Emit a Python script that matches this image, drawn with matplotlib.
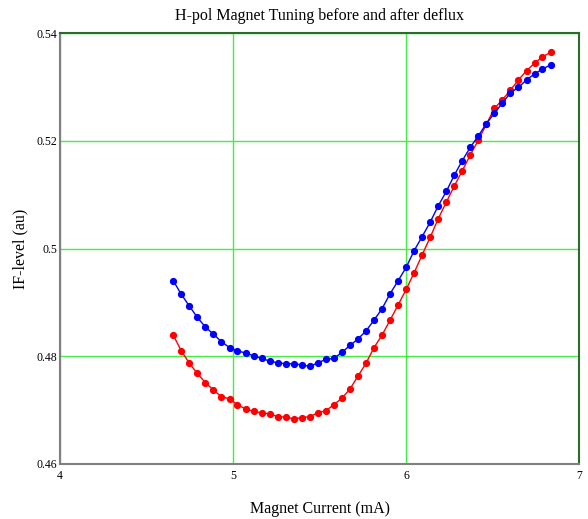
import matplotlib
matplotlib.use("Agg")
import matplotlib.pyplot as plt

# magnet current (mA), same grid for both sweeps
current = [4.655, 4.701, 4.748, 4.794, 4.841, 4.887, 4.933, 4.980, 5.026, 5.073,
           5.119, 5.165, 5.212, 5.258, 5.305, 5.351, 5.397, 5.444, 5.490, 5.537,
           5.583, 5.629, 5.676, 5.722, 5.769, 5.815, 5.861, 5.908, 5.954, 6.001,
           6.047, 6.093, 6.140, 6.186, 6.233, 6.279, 6.325, 6.372, 6.418, 6.465,
           6.511, 6.557, 6.604, 6.650, 6.697, 6.743, 6.789, 6.836]

# IF level (au)
blue_level = [0.4940, 0.4915, 0.4893, 0.4872, 0.4854, 0.4841, 0.4827, 0.4816, 0.4810, 0.4806,
              0.4801, 0.4796, 0.4791, 0.4788, 0.4786, 0.4786, 0.4784, 0.4781, 0.4788, 0.4794,
              0.4796, 0.4807, 0.4820, 0.4832, 0.4847, 0.4867, 0.4888, 0.4916, 0.4940, 0.4965,
              0.4996, 0.5022, 0.5049, 0.5079, 0.5106, 0.5136, 0.5163, 0.5188, 0.5209, 0.5232,
              0.5251, 0.5270, 0.5289, 0.5299, 0.5313, 0.5324, 0.5333, 0.5341]

red_level = [0.4839, 0.4810, 0.4787, 0.4768, 0.4751, 0.4737, 0.4725, 0.4721, 0.4710, 0.4702,
             0.4698, 0.4695, 0.4693, 0.4688, 0.4687, 0.4684, 0.4686, 0.4688, 0.4695, 0.4699,
             0.4710, 0.4722, 0.4739, 0.4763, 0.4787, 0.4816, 0.4839, 0.4867, 0.4895, 0.4924,
             0.4955, 0.4988, 0.5021, 0.5055, 0.5086, 0.5116, 0.5144, 0.5174, 0.5201, 0.5231,
             0.5260, 0.5276, 0.5294, 0.5313, 0.5330, 0.5344, 0.5356, 0.5364]

x_ticks = [4, 5, 6, 7]
y_ticks = [0.46, 0.48, 0.5, 0.52, 0.54]
y_tick_labels = ["0.46", "0.48", "0.5", "0.52", "0.54"]

plt.rcParams['font.family'] = ['Liberation Serif', 'DejaVu Serif']

fig = plt.figure(figsize=(5.88, 5.19), dpi=100)
ax = fig.add_axes([60 / 588, 55 / 519, 519 / 588, 431 / 519])

ax.plot(current, red_level, color='#ff0000', lw=1, marker='o', ms=4.2, zorder=3)
ax.plot(current, blue_level, color='#0000ff', lw=1, marker='o', ms=4.2, zorder=3)

ax.set_xlim(4, 7)
ax.set_ylim(0.46, 0.54)
ax.set_xticks(x_ticks)
ax.set_yticks(y_ticks)
ax.set_yticklabels(y_tick_labels)
ax.tick_params(length=0, labelsize=8.5, pad=2)
ax.tick_params(axis='x', pad=4)
ax.grid(True, color='#44ee44', lw=1)

for side in ['left', 'bottom']:
    ax.spines[side].set_color('#808080')
    ax.spines[side].set_linewidth(1.5)
for side in ['top', 'right']:
    ax.spines[side].set_color('#2d6a2d')
    ax.spines[side].set_linewidth(1.5)

ax.set_title("H-pol Magnet Tuning before and after deflux", fontsize=11.5, pad=9)
ax.set_xlabel("Magnet Current (mA)", fontsize=11.5, labelpad=14)
ax.set_ylabel("IF-level (au)", fontsize=11.5, labelpad=6)

fig.savefig("out.png", dpi=100)
